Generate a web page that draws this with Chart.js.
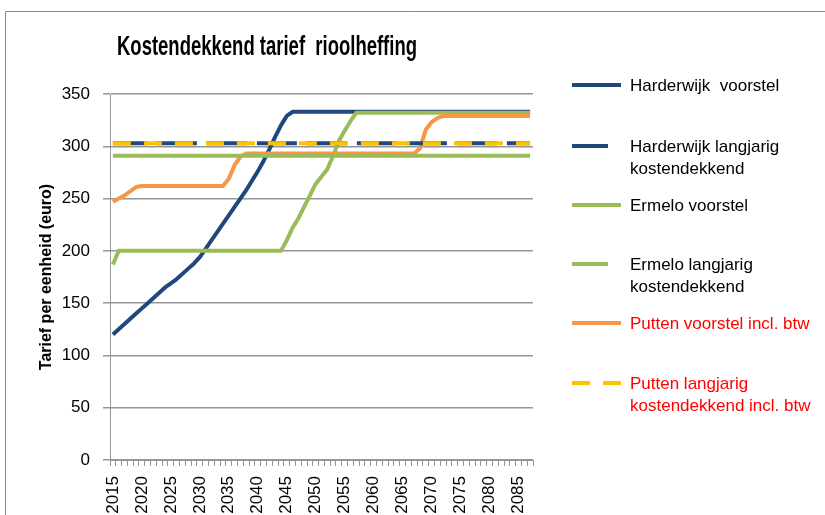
<!DOCTYPE html>
<html>
<head>
<meta charset="utf-8">
<title>Kostendekkend tarief rioolheffing</title>
<script src="https://cdn.jsdelivr.net/npm/chart.js@4.4.1/dist/chart.umd.min.js"></script>
<style>
  html, body { margin: 0; padding: 0; background: #fff; }
  #wrap { width: 825px; height: 515px; position: relative; }
</style>
</head>
<body>
<div id="wrap"><canvas id="tarief-chart" width="825" height="515"></canvas></div>
<script>
// Chart Data
const years = [
  2015, 2016, 2017, 2018, 2019, 2020, 2021, 2022, 2023, 2024,
  2025, 2026, 2027, 2028, 2029, 2030, 2031, 2032, 2033, 2034,
  2035, 2036, 2037, 2038, 2039, 2040, 2041, 2042, 2043, 2044,
  2045, 2046, 2047, 2048, 2049, 2050, 2051, 2052, 2053, 2054,
  2055, 2056, 2057, 2058, 2059, 2060, 2061, 2062, 2063, 2064,
  2065, 2066, 2067, 2068, 2069, 2070, 2071, 2072, 2073, 2074,
  2075, 2076, 2077, 2078, 2079, 2080, 2081, 2082, 2083, 2084,
  2085, 2086, 2087
];

const harderwijkVoorstel = [
  120, 125, 130, 135, 140, 145, 150, 155, 160, 165,
  169, 173, 178, 183, 188, 194, 202, 210, 218, 226,
  234, 242, 250, 258, 267, 276, 286, 297, 309, 320,
  329, 333, 333, 333, 333, 333, 333, 333, 333, 333,
  333, 333, 333, 333, 333, 333, 333, 333, 333, 333,
  333, 333, 333, 333, 333, 333, 333, 333, 333, 333,
  333, 333, 333, 333, 333, 333, 333, 333, 333, 333,
  333, 333, 333
];

const harderwijkLangjarig = [
  303, 303, 303, 303, 303, 303, 303, 303, 303, 303,
  303, 303, 303, 303, 303, 303, 303, 303, 303, 303,
  303, 303, 303, 303, 303, 303, 303, 303, 303, 303,
  303, 303, 303, 303, 303, 303, 303, 303, 303, 303,
  303, 303, 303, 303, 303, 303, 303, 303, 303, 303,
  303, 303, 303, 303, 303, 303, 303, 303, 303, 303,
  303, 303, 303, 303, 303, 303, 303, 303, 303, 303,
  303, 303, 303
];

const ermeloVoorstel = [
  187, 200, 200, 200, 200, 200, 200, 200, 200, 200,
  200, 200, 200, 200, 200, 200, 200, 200, 200, 200,
  200, 200, 200, 200, 200, 200, 200, 200, 200, 200,
  210, 222, 231, 242, 253, 264, 271, 278, 291, 305,
  315, 324, 332, 332, 332, 332, 332, 332, 332, 332,
  332, 332, 332, 332, 332, 332, 332, 332, 332, 332,
  332, 332, 332, 332, 332, 332, 332, 332, 332, 332,
  332, 332, 332
];

const ermeloLangjarig = [
  291, 291, 291, 291, 291, 291, 291, 291, 291, 291,
  291, 291, 291, 291, 291, 291, 291, 291, 291, 291,
  291, 291, 291, 291, 291, 291, 291, 291, 291, 291,
  291, 291, 291, 291, 291, 291, 291, 291, 291, 291,
  291, 291, 291, 291, 291, 291, 291, 291, 291, 291,
  291, 291, 291, 291, 291, 291, 291, 291, 291, 291,
  291, 291, 291, 291, 291, 291, 291, 291, 291, 291,
  291, 291, 291
];

const puttenVoorstel = [
  247, 250, 253, 257, 261, 262, 262, 262, 262, 262,
  262, 262, 262, 262, 262, 262, 262, 262, 262, 262,
  269, 282, 290, 293, 293, 293, 293, 293, 293, 293,
  293, 293, 293, 293, 293, 293, 293, 293, 293, 293,
  293, 293, 293, 293, 293, 293, 293, 293, 293, 293,
  293, 293, 293, 298, 316, 323, 327, 329, 329, 329,
  329, 329, 329, 329, 329, 329, 329, 329, 329, 329,
  329, 329, 329
];

const puttenLangjarig = [
  303, 303, 303, 303, 303, 303, 303, 303, 303, 303,
  303, 303, 303, 303, 303, 303, 303, 303, 303, 303,
  303, 303, 303, 303, 303, 303, 303, 303, 303, 303,
  303, 303, 303, 303, 303, 303, 303, 303, 303, 303,
  303, 303, 303, 303, 303, 303, 303, 303, 303, 303,
  303, 303, 303, 303, 303, 303, 303, 303, 303, 303,
  303, 303, 303, 303, 303, 303, 303, 303, 303, 303,
  303, 303, 303
];

const seriesNames = [
  'Harderwijk  voorstel',
  'Harderwijk langjarig\nkostendekkend',
  'Ermelo voorstel',
  'Ermelo langjarig\nkostendekkend',
  'Putten voorstel incl. btw',
  'Putten langjarig\nkostendekkend incl. btw'
];

const yTicks = { min: 0, max: 350, step: 50 };
const chartTitle = 'Kostendekkend tarief  rioolheffing';
const yAxisTitle = 'Tarief per eenheid (euro)';

// Colors
const navy = '#1F497D';
const green = '#9BBB59';
const orange = '#F79646';
const yellow = '#FFC000';
const gridGray = '#969696';
const fontFamily = '"Liberation Sans", Arial, sans-serif';

Chart.defaults.font.family = fontFamily;
Chart.defaults.color = '#000';

// Frame + title
const framePlugin = {
  id: 'frame',
  beforeDraw(chart) {
    const ctx = chart.ctx;
    ctx.save();
    ctx.fillStyle = '#fff';
    ctx.fillRect(0, 0, chart.width, chart.height);
    ctx.strokeStyle = '#8a8a8a';
    ctx.lineWidth = 1;
    ctx.beginPath();
    ctx.moveTo(5.5, chart.height);
    ctx.lineTo(5.5, 11.5);
    ctx.lineTo(chart.width, 11.5);
    ctx.stroke();
    ctx.restore();
  },
  afterDraw(chart) {
    const ctx = chart.ctx;
    ctx.save();
    ctx.font = 'bold 28px ' + fontFamily;
    ctx.fillStyle = '#000';
    ctx.textAlign = 'center';
    ctx.textBaseline = 'middle';
    // squeeze the title like the narrow original
    const w = ctx.measureText(chartTitle).width;
    const sx = 300 / w;
    ctx.translate(267, 47);
    ctx.scale(sx, 1);
    ctx.fillText(chartTitle, 0, 0);
    ctx.restore();
  }
};

// Legend on the right side
const sideLegend = {
  id: 'sideLegend',
  afterDraw(chart) {
    const ctx = chart.ctx;
    const rowY = [85, 146, 205, 264, 323, 383];
    chart.data.datasets.forEach((ds, i) => {
      const y = rowY[i];
      ctx.save();
      ctx.strokeStyle = ds.borderColor;
      ctx.lineWidth = 4;
      ctx.setLineDash(ds.legendDash || []);
      ctx.beginPath();
      ctx.moveTo(572, y);
      ctx.lineTo(572 + (ds.legendLength || 49), y);
      ctx.stroke();
      ctx.setLineDash([]);
      ctx.font = '17px ' + fontFamily;
      ctx.fillStyle = ds.legendTextColor || '#000';
      ctx.textAlign = 'left';
      ctx.textBaseline = 'middle';
      ds.label.split('\n').forEach((line, k) => {
        ctx.fillText(line, 630, y + 1 + k * 22);
      });
      ctx.restore();
    });
  }
};

const lineStyle = {
  fill: false,
  tension: 0,
  pointRadius: 0,
  pointHoverRadius: 0,
  borderWidth: 4,
  borderCapStyle: 'butt',
  borderJoinStyle: 'round'
};

const ctx = document.getElementById('tarief-chart');

new Chart(ctx, {
  type: 'line',
  data: {
    labels: years,
    datasets: [
      { ...lineStyle, label: seriesNames[0], data: harderwijkVoorstel, borderColor: navy, order: 5 },
      { ...lineStyle, label: seriesNames[1], data: harderwijkLangjarig, borderColor: navy,
        borderDash: [40, 10], borderDashOffset: 6, legendDash: [36, 20], order: 2 },
      { ...lineStyle, label: seriesNames[2], data: ermeloVoorstel, borderColor: green, order: 4 },
      { ...lineStyle, label: seriesNames[3], data: ermeloLangjarig, borderColor: green,
        legendLength: 36, order: 1 },
      { ...lineStyle, label: seriesNames[4], data: puttenVoorstel, borderColor: orange,
        legendTextColor: '#FF0000', order: 3 },
      { ...lineStyle, label: seriesNames[5], data: puttenLangjarig, borderColor: yellow,
        borderDash: [18, 13], legendDash: [18, 13], legendTextColor: '#FF0000', order: 0 }
    ]
  },
  options: {
    responsive: false,
    animation: false,
    layout: {
      padding: { left: 33, top: 94, right: 292, bottom: 0 }
    },
    plugins: {
      legend: { display: false },
      title: { display: false },
      tooltip: { enabled: false }
    },
    scales: {
      x: {
        type: 'category',
        offset: true,
        afterFit(scale) { scale.height = 55; },
        border: { color: gridGray, width: 1 },
        grid: {
          offset: true,
          drawOnChartArea: false,
          drawTicks: true,
          tickLength: 6,
          color: gridGray
        },
        ticks: {
          autoSkip: false,
          minRotation: 90,
          maxRotation: 90,
          padding: 10,
          font: { size: 17 },
          color: '#000',
          callback: function (value, index) {
            return index % 5 === 0 ? this.getLabelForValue(value) : '';
          }
        }
      },
      y: {
        min: yTicks.min,
        max: yTicks.max,
        afterFit(scale) { scale.width = 77; },
        border: { color: gridGray, width: 1 },
        grid: {
          color: gridGray,
          lineWidth: 1.5,
          tickLength: 7
        },
        ticks: {
          stepSize: yTicks.step,
          padding: 13,
          font: { size: 17 },
          color: '#000'
        },
        title: {
          display: true,
          text: yAxisTitle,
          color: '#000',
          font: { size: 16, weight: 'bold' },
          padding: { top: 4, bottom: 4 }
        }
      }
    }
  },
  plugins: [framePlugin, sideLegend]
});
</script>
</body>
</html>
